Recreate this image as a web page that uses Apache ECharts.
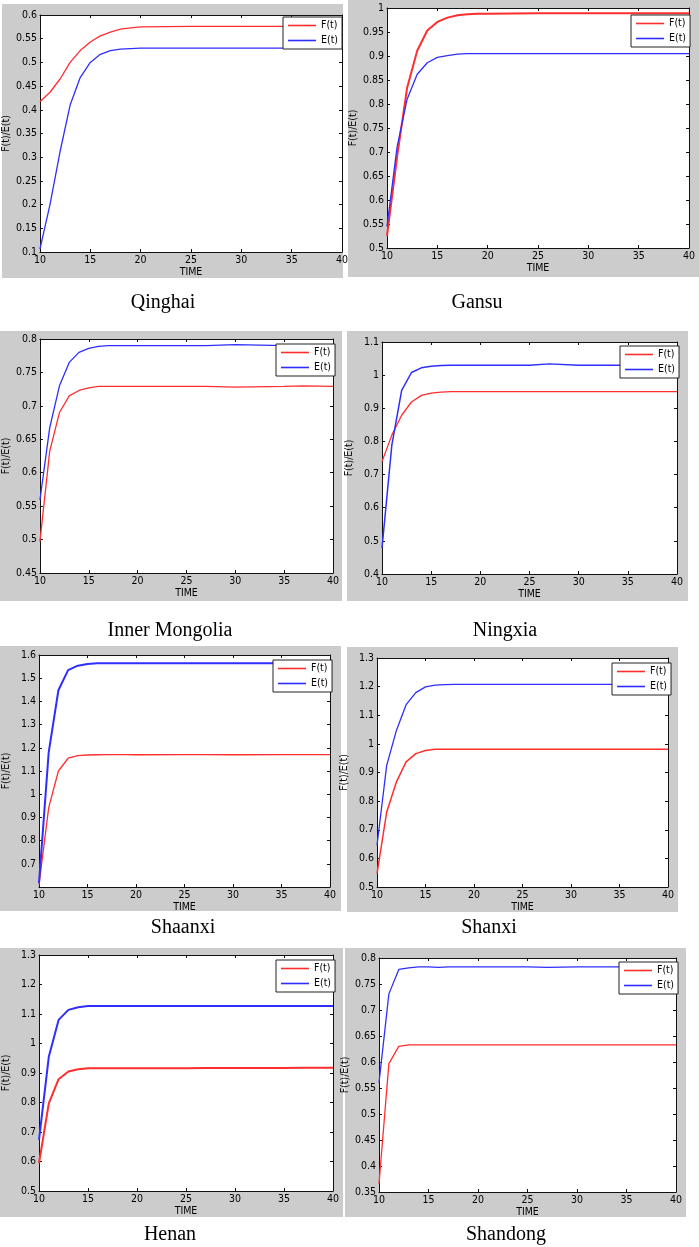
<!DOCTYPE html>
<html>
<head>
<meta charset="utf-8">
<title>F(t)/E(t) by province</title>
<script src="https://cdn.jsdelivr.net/npm/echarts@6/dist/echarts.min.js"></script>
<style>
html, body { margin: 0; padding: 0; background: #fff; }
#chart { width: 699px; height: 1247px; }
</style>
</head>
<body>
<div id="chart"></div>
<script>
// shared time axis
var time = [10, 11, 12, 13, 14, 15, 16, 17, 18, 19, 20, 25, 27, 30, 35, 37, 40];
var xTicks = [10, 40, 5];

// y axes: [min, max, step]
var qinghaiTicks = [0.1, 0.6, 0.05];
var gansuTicks = [0.5, 1.0, 0.05];
var innerMongoliaTicks = [0.45, 0.8, 0.05];
var ningxiaTicks = [0.4, 1.1, 0.1];
var shaanxiTicks = [0.6, 1.6, 0.1];
var shanxiTicks = [0.5, 1.3, 0.1];
var henanTicks = [0.5, 1.3, 0.1];
var shandongTicks = [0.35, 0.8, 0.05];

// F(t) and E(t) values at each time
var qinghaiF = [0.417, 0.437, 0.465, 0.500, 0.525, 0.543, 0.556, 0.564, 0.570, 0.573, 0.575, 0.576, 0.576, 0.576, 0.576, 0.576, 0.576];
var qinghaiE = [0.106, 0.200, 0.312, 0.410, 0.468, 0.500, 0.517, 0.525, 0.528, 0.529, 0.530, 0.530, 0.530, 0.530, 0.530, 0.530, 0.530];
var gansuF = [0.525, 0.690, 0.834, 0.911, 0.953, 0.971, 0.980, 0.985, 0.987, 0.988, 0.988, 0.989, 0.989, 0.989, 0.989, 0.989, 0.989];
var gansuE = [0.545, 0.710, 0.810, 0.862, 0.886, 0.897, 0.901, 0.904, 0.905, 0.905, 0.905, 0.905, 0.905, 0.905, 0.905, 0.905, 0.905];
var innerMongoliaF = [0.497, 0.632, 0.690, 0.715, 0.723, 0.727, 0.729, 0.729, 0.729, 0.729, 0.729, 0.729, 0.729, 0.728, 0.729, 0.730, 0.729];
var innerMongoliaE = [0.559, 0.667, 0.730, 0.765, 0.780, 0.786, 0.789, 0.790, 0.790, 0.790, 0.790, 0.790, 0.790, 0.7915, 0.790, 0.790, 0.790];
var ningxiaF = [0.739, 0.819, 0.879, 0.919, 0.939, 0.946, 0.949, 0.950, 0.950, 0.950, 0.950, 0.950, 0.950, 0.950, 0.950, 0.950, 0.950];
var ningxiaE = [0.478, 0.789, 0.954, 1.008, 1.022, 1.027, 1.029, 1.030, 1.030, 1.030, 1.030, 1.030, 1.034, 1.030, 1.030, 1.030, 1.030];
var shaanxiF = [0.610, 0.942, 1.100, 1.155, 1.166, 1.169, 1.170, 1.171, 1.171, 1.171, 1.170, 1.171, 1.171, 1.170, 1.171, 1.171, 1.171];
var shaanxiE = [0.617, 1.180, 1.448, 1.535, 1.554, 1.561, 1.564, 1.564, 1.564, 1.564, 1.564, 1.564, 1.564, 1.564, 1.564, 1.564, 1.564];
var shanxiF = [0.547, 0.762, 0.867, 0.937, 0.966, 0.977, 0.981, 0.981, 0.981, 0.981, 0.981, 0.981, 0.981, 0.981, 0.981, 0.981, 0.981];
var shanxiE = [0.646, 0.925, 1.047, 1.137, 1.179, 1.199, 1.205, 1.207, 1.208, 1.208, 1.208, 1.208, 1.208, 1.208, 1.208, 1.208, 1.208];
var henanF = [0.594, 0.797, 0.879, 0.905, 0.913, 0.916, 0.916, 0.916, 0.916, 0.916, 0.916, 0.916, 0.917, 0.917, 0.917, 0.918, 0.918];
var henanE = [0.673, 0.955, 1.080, 1.114, 1.123, 1.127, 1.127, 1.127, 1.127, 1.127, 1.127, 1.127, 1.127, 1.127, 1.127, 1.127, 1.127];
var shandongF = [0.366, 0.597, 0.630, 0.633, 0.633, 0.633, 0.633, 0.633, 0.633, 0.633, 0.633, 0.633, 0.633, 0.633, 0.633, 0.633, 0.633];
var shandongE = [0.560, 0.731, 0.778, 0.781, 0.783, 0.783, 0.782, 0.783, 0.783, 0.783, 0.783, 0.783, 0.782, 0.783, 0.783, 0.783, 0.783];

// layout: frame [x1,y1,x2,y2], plot [x1,y1,x2,y2], legend [left,top], caption [cx,cy], line widths
var panels = [
    { name: 'Qinghai', f: qinghaiF, e: qinghaiE, y: qinghaiTicks,
      frame: [2, 4, 343, 278], plot: [39, 15, 342, 252], legend: [283, 17], caption: [163, 303], fw: 1.3, ew: 1.3 },
    { name: 'Gansu', f: gansuF, e: gansuE, y: gansuTicks,
      frame: [348, 0, 699, 277], plot: [387, 8, 689, 248], legend: [631, 15], caption: [477, 303], fw: 2, ew: 1.3 },
    { name: 'Inner Mongolia', f: innerMongoliaF, e: innerMongoliaE, y: innerMongoliaTicks,
      frame: [0, 331, 342, 601], plot: [37, 339, 333, 573], legend: [276, 344], caption: [170, 631], fw: 1.3, ew: 1.3 },
    { name: 'Ningxia', f: ningxiaF, e: ningxiaE, y: ningxiaTicks,
      frame: [347, 331, 688, 601], plot: [382, 342, 677, 574], legend: [620, 346], caption: [505, 631], fw: 1.3, ew: 1.5 },
    { name: 'Shaanxi', f: shaanxiF, e: shaanxiE, y: shaanxiTicks, hideMin: true,
      frame: [0, 646, 341, 911], plot: [37, 655, 330, 887], legend: [273, 660], caption: [183, 928], fw: 1.3, ew: 2 },
    { name: 'Shanxi', f: shanxiF, e: shanxiE, y: shanxiTicks,
      frame: [347, 647, 678, 912], plot: [377, 658, 668, 887], legend: [612, 663], caption: [489, 928], fw: 1.5, ew: 1.3 },
    { name: 'Henan', f: henanF, e: henanE, y: henanTicks,
      frame: [0, 948, 343, 1217], plot: [34, 955, 333, 1191], legend: [276, 960], caption: [170, 1235], fw: 2, ew: 2 },
    { name: 'Shandong', f: shandongF, e: shandongE, y: shandongTicks,
      frame: [345, 948, 686, 1217], plot: [379, 958, 676, 1192], legend: [619, 962], caption: [506, 1235], fw: 1.3, ew: 1.3 }
];

var RED = '#ff2e2e';
var BLUE = '#2e2eff';
var tickFont = '"Liberation Sans Narrow", "DejaVu Sans Condensed", "Liberation Sans", Arial, sans-serif';

function zip(xs, ys) {
    return xs.map(function (x, i) { return [x, ys[i]]; });
}

function makeAxis(kind, i, pos, ticks, withLabels, hideMin) {
    var ax = {
        type: 'value',
        gridIndex: i,
        position: pos,
        min: ticks[0],
        max: ticks[1],
        interval: ticks[2],
        splitLine: { show: false },
        axisLine: { show: true, onZero: false, lineStyle: { color: '#111', width: 1 } },
        axisTick: { show: true, inside: true, length: 3, lineStyle: { color: '#111' } },
        axisLabel: {
            show: withLabels,
            margin: 3,
            fontSize: 10.5,
            fontFamily: tickFont,
            color: '#000',
            showMinLabel: !hideMin
        }
    };
    if (withLabels) {
        ax.nameLocation = 'middle';
        ax.nameTextStyle = { fontSize: 10.5, fontFamily: tickFont, color: '#000' };
        if (kind === 'x') {
            ax.name = 'TIME';
            ax.nameGap = 14;
        } else {
            ax.name = 'F(t)/E(t)';
            ax.nameGap = 27;
            ax.nameRotate = 90;
        }
    }
    return ax;
}

var grids = [], xAxes = [], yAxes = [], series = [], legends = [], graphics = [];

panels.forEach(function (p, i) {
    graphics.push({
        type: 'rect', z: -10, silent: true,
        shape: { x: p.frame[0], y: p.frame[1], width: p.frame[2] - p.frame[0], height: p.frame[3] - p.frame[1] },
        style: { fill: '#cccccc' }
    });
    graphics.push({
        type: 'text', silent: true,
        x: p.caption[0], y: p.caption[1],
        style: { text: p.name, font: '20px "Liberation Serif", "Times New Roman", serif', fill: '#000', align: 'center', verticalAlign: 'middle' }
    });

    grids.push({
        left: p.plot[0], top: p.plot[1],
        width: p.plot[2] - p.plot[0], height: p.plot[3] - p.plot[1],
        show: true, backgroundColor: '#ffffff', borderWidth: 0
    });

    xAxes.push(makeAxis('x', i, 'bottom', xTicks, true, false));
    xAxes.push(makeAxis('x', i, 'top', xTicks, false, false));
    yAxes.push(makeAxis('y', i, 'left', p.y, true, p.hideMin));
    yAxes.push(makeAxis('y', i, 'right', p.y, false, p.hideMin));

    series.push({
        name: 'F(t)', type: 'line', xAxisIndex: 2 * i, yAxisIndex: 2 * i,
        data: zip(time, p.f), symbol: 'none', smooth: false,
        lineStyle: { color: RED, width: p.fw }, itemStyle: { color: RED }, z: 3
    });
    series.push({
        name: 'E(t)', type: 'line', xAxisIndex: 2 * i, yAxisIndex: 2 * i,
        data: zip(time, p.e), symbol: 'none', smooth: false,
        lineStyle: { color: BLUE, width: p.ew }, itemStyle: { color: BLUE }, z: 3
    });

    legends.push({
        left: p.legend[0], top: p.legend[1],
        orient: 'vertical', data: ['F(t)', 'E(t)'],
        selectedMode: false,
        backgroundColor: '#ffffff', borderColor: '#222', borderWidth: 1,
        padding: [3, 4, 3, 5], itemGap: 4,
        icon: 'rect', itemWidth: 28, itemHeight: 1.6,
        textStyle: { fontSize: 10.5, fontFamily: tickFont, color: '#000' }
    });
});

var option = {
    animation: false,
    backgroundColor: '#ffffff',
    grid: grids,
    xAxis: xAxes,
    yAxis: yAxes,
    legend: legends,
    graphic: graphics,
    series: series
};

var chart = echarts.init(document.getElementById('chart'));
chart.setOption(option);
</script>
</body>
</html>
